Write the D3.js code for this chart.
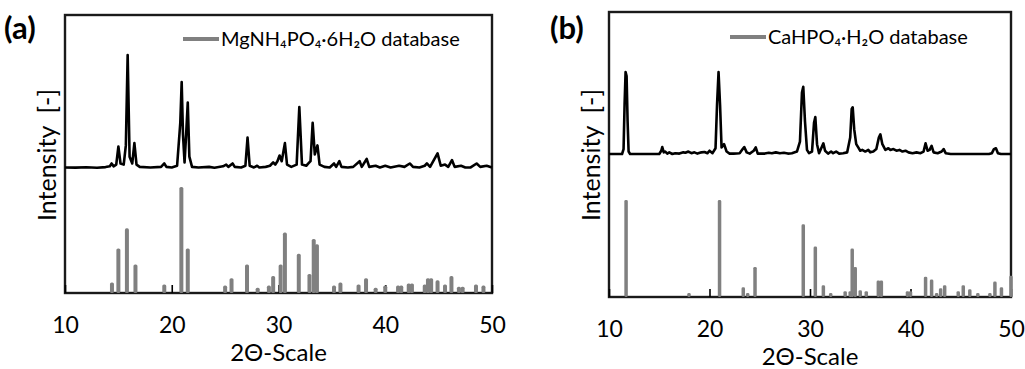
<!DOCTYPE html>
<html>
<head>
<meta charset="utf-8">
<script src="https://cdn.jsdelivr.net/npm/d3@7"></script>
</head>
<body style="margin:0">
<div id="chart"></div>
<script>
// x ticks shared by both panels
const xTicks = [10, 20, 30, 40, 50];

// (a) MgNH4PO4·6H2O database lines: 2theta / relative intensity
const dbAngleA = [14.4, 15.0, 15.8, 16.6, 19.3, 20.9, 21.5, 25.0, 25.6, 27.05, 28.05, 29.1, 29.5, 30.2, 30.6,
  31.9, 32.9, 33.3, 33.6, 35.2, 35.8, 37.5, 38.2, 39.1, 40.0, 41.2, 41.5, 42.2, 42.5, 43.7, 44.0, 44.3,
  44.9, 45.6, 46.2, 46.9, 47.25, 48.5, 49.2];
const dbIntA = [10, 42, 61, 27, 8, 100, 42, 7, 14, 27, 5, 7, 16, 27, 57,
  37, 18, 51, 46, 7, 10, 8, 14, 5, 7, 7, 7, 9, 9, 8, 14, 14,
  12, 8, 16, 6, 6, 8, 7];

const expA = [[10,0.5],[11,0.3],[12,0.6],[13,0.2],[13.8,0.8],[14.2,1.5],[14.37,4],[14.55,1.5],[14.8,3],
  [15.0,19],[15.2,4],[15.5,3],[15.7,20],[15.87,100],[16.05,10],[16.3,4],[16.5,22],[16.7,3],[17,1],[18,0.5],
  [19,1],[19.3,4],[19.5,1],[20,0.5],[20.5,2],[20.8,40],[20.93,76],[21.05,30],[21.2,5],[21.35,30],[21.5,58],
  [21.65,10],[21.9,1],[22.5,0.5],[23.5,1],[24,0.3],[24.8,1.5],[25.1,3],[25.3,1],[25.7,4],[25.9,1],[26.5,0.5],
  [26.9,2],[27.1,27],[27.3,2],[27.7,0.5],[28,2],[28.2,0.5],[28.8,1],[29.2,2],[29.5,5],[29.7,3],[29.9,6],
  [30.1,11],[30.3,6],[30.6,22],[30.8,3],[31.2,1],[31.7,3],[31.95,54],[32.2,3],[32.6,2],[32.8,4],[33.0,6],
  [33.2,40],[33.4,12],[33.65,20],[33.85,3],[34.3,1],[34.8,0.5],[35.2,4],[35.4,1],[35.7,6],[35.9,1],[36.5,0.5],
  [37,1],[37.6,6],[37.8,1],[38.26,8],[38.5,1],[39.1,2],[39.5,0.5],[40,2],[40.5,0.5],[41.3,2],[41.8,1],
  [42.3,4],[42.6,1],[43.2,0.5],[43.7,2],[43.9,4],[44.2,1],[44.9,13],[45.2,2],[45.6,3],[45.9,1],[46.25,7],
  [46.5,1],[47.1,2],[47.5,0.5],[48,0.5],[48.56,4],[48.9,1],[49.5,2],[50,0.5]];

// (b) CaHPO4·H2O database lines
const dbAngleB = [11.7, 17.96, 21.0, 23.36, 23.8, 24.53, 29.33, 30.53, 31.33, 32.06, 33.5, 34.0, 34.2, 34.5,
  35.0, 35.6, 36.8, 37.1, 39.7, 40.0, 41.5, 42.1, 42.6, 43.0, 43.4, 44.75, 45.25, 45.9, 46.7, 47.9,
  48.4, 49.05, 50.0];
const dbIntB = [100, 4, 100, 10, 4, 31, 75, 52, 12, 4, 6, 6, 50, 31,
  7, 6, 17, 17, 6, 6, 21, 18, 4, 9, 12, 6, 12, 8, 4, 4,
  16, 10, 22];

// (b) measured pattern
const expB = [[10,0],[11.3,0],[11.45,6],[11.55,60],[11.65,100],[11.75,95],[11.85,40],[11.95,3],[12.1,0],
  [15,0],[15.2,4],[15.3,8.5],[15.45,2],[15.6,3],[15.8,0.5],[16,2],[16.3,0],[16.6,1],[17,0.5],[17.4,2],
  [17.6,1.5],[17.9,3],[18.2,1],[18.5,2],[18.8,0.5],[19.2,2],[19.5,2.5],[19.8,1],[20,4],[20.3,1],[20.6,7],
  [20.75,60],[20.9,100],[21.05,60],[21.2,8],[21.45,12],[21.7,3],[22,0.5],[22.4,0.5],[23,1],[23.3,6],
  [23.46,8.5],[23.7,2],[24,0.5],[24.4,4],[24.6,8],[24.8,0.5],[25.5,0.5],[25.9,1.5],[26.2,1],[26.6,2],
  [27,1],[27.4,1.5],[27.8,0.5],[28.2,1],[28.7,3],[29,15],[29.2,75],[29.33,82],[29.5,40],[29.7,5],[29.9,1],
  [30.2,3],[30.4,38],[30.53,45],[30.7,12],[30.9,1],[31.15,8],[31.33,13],[31.5,4],[31.8,0.5],[32.1,3],
  [32.3,1],[32.6,3],[32.9,0.5],[33.3,1],[33.7,2],[34,20],[34.15,55],[34.25,57],[34.4,30],[34.6,12],
  [34.8,8],[35,4],[35.2,5],[35.5,3],[35.8,5],[36,2],[36.3,3],[36.6,6],[36.85,20],[37,24],[37.2,12],
  [37.5,5],[37.8,7],[38,5],[38.3,6],[38.6,4],[38.9,5],[39.2,3],[39.5,4],[39.8,2],[40.2,1],[40.6,2],
  [41,1],[41.3,3],[41.5,13],[41.7,4],[41.9,5],[42.1,10],[42.3,2],[42.7,1],[43.1,3],[43.3,6],[43.5,1],
  [44,0],[47.8,0],[48.1,1],[48.3,6],[48.5,7],[48.7,1],[49,0],[50,0]];

const W = 1025, H = 369;
const FONT = "Lato, 'Open Sans', sans-serif";
const svg = d3.select("#chart").append("svg")
  .attr("width", W).attr("height", H);

const panels = [
  { tag: "(a)", tagX: 4,
    left: 65, right: 492, top: 15, bottom: 293, titleY: 361,
    expBase: 168, expTop: 55, dbTop: 187, barW: 4,
    dbAngle: dbAngleA, dbInt: dbIntA, exp: expA,
    legX: 183, legY: 39, legend: "MgNH₄PO₄·6H₂O database",
    yLabX: 56, yLabY: 155 },
  { tag: "(b)", tagX: 550,
    left: 609, right: 1011, top: 12, bottom: 297, titleY: 365,
    expBase: 154, expTop: 72, dbTop: 200, barW: 3.5,
    dbAngle: dbAngleB, dbInt: dbIntB, exp: expB,
    legX: 730, legY: 37, legend: "CaHPO₄·H₂O database",
    yLabX: 600, yLabY: 155 }
];

panels.forEach((p) => {
  const x = d3.scaleLinear().domain([10, 50]).range([p.left, p.right]);
  const yExp = d3.scaleLinear().domain([0, 100]).range([p.expBase, p.expTop]);
  const yDb = d3.scaleLinear().domain([0, 100]).range([p.bottom, p.dbTop]);

  // box round the plot
  svg.append("rect")
    .attr("x", p.left).attr("y", p.top)
    .attr("width", p.right - p.left).attr("height", p.bottom - p.top)
    .attr("fill", "none").attr("stroke", "#1a1a1a").attr("stroke-width", 2.4);

  // bottom axis with inward ticks
  const ax = svg.append("g")
    .attr("transform", "translate(0," + p.bottom + ")")
    .call(d3.axisBottom(x).tickValues(xTicks).tickSizeInner(-8).tickSizeOuter(0).tickPadding(24));
  ax.select(".domain").remove();
  ax.selectAll(".tick line").attr("stroke", "#000").attr("stroke-width", 1.6);
  ax.selectAll("text").attr("font-size", 23).attr("font-family", FONT);

  // database sticks
  svg.append("g").selectAll("rect").data(p.dbAngle)
    .enter().append("rect")
    .attr("x", (d) => x(d) - p.barW / 2)
    .attr("y", (d, i) => yDb(p.dbInt[i]))
    .attr("width", p.barW)
    .attr("height", (d, i) => yDb(0) - yDb(p.dbInt[i]))
    .attr("rx", p.barW / 2.5)
    .attr("fill", "#808080");

  // measured trace
  const line = d3.line().x((d) => x(d[0])).y((d) => yExp(d[1]));
  svg.append("path").datum(p.exp)
    .attr("d", line)
    .attr("fill", "none").attr("stroke", "#000")
    .attr("stroke-width", 2.6).attr("stroke-linejoin", "round");

  // legend
  svg.append("line")
    .attr("x1", p.legX).attr("x2", p.legX + 36)
    .attr("y1", p.legY).attr("y2", p.legY)
    .attr("stroke", "#808080").attr("stroke-width", 4);
  svg.append("text")
    .attr("x", p.legX + 38).attr("y", p.legY + 7)
    .attr("font-family", FONT).attr("font-size", 20)
    .text(p.legend);

  // axis titles
  svg.append("text")
    .attr("x", (p.left + p.right) / 2).attr("y", p.titleY)
    .attr("text-anchor", "middle").attr("font-family", FONT).attr("font-size", 24)
    .text("2Θ-Scale");
  svg.append("text")
    .attr("transform", "translate(" + p.yLabX + "," + p.yLabY + ") rotate(-90)")
    .attr("text-anchor", "middle").attr("font-family", FONT).attr("font-size", 25)
    .style("white-space", "pre")
    .text("Intensity  [-]");

  // panel tag
  svg.append("text")
    .attr("x", p.tagX).attr("y", 39)
    .attr("font-family", FONT).attr("font-size", 31).attr("font-weight", "bold")
    .text(p.tag);
});
</script>
</body>
</html>
